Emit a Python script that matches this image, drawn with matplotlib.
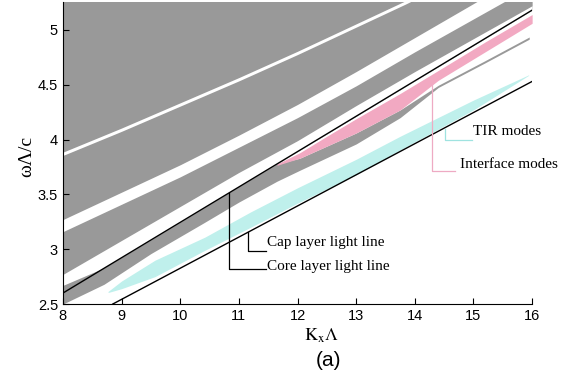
import numpy as np
import matplotlib.pyplot as plt

plt.rcParams['mathtext.fontset'] = 'stix'

# light lines (k, omega)
core_k = [8.0, 16.0]
core_w = [2.60, 5.18]
cap_k = [8.85, 16.0]
cap_w = [2.50, 4.53]

# white gaps cut into the grey continuum above the core light line
gapA_k = [8.0, 9.0, 10.0, 11.0, 12.0, 13.0, 13.84, 14.2]
gapA_lo = [3.855, 4.075, 4.305, 4.535, 4.775, 5.025, 5.235, 5.33]
gapA_hi = [3.885, 4.105, 4.335, 4.565, 4.805, 5.055, 5.265, 5.36]

gapB_k = [8.0, 9.0, 10.0, 11.0, 12.0, 13.0, 14.0, 15.0, 16.0]
gapB_lo = [3.16, 3.41, 3.66, 3.93, 4.20, 4.49, 4.80, 5.10, 5.40]
gapB_hi = [3.27, 3.52, 3.77, 4.04, 4.32, 4.62, 4.93, 5.24, 5.55]

gapC_k = [8.0, 9.0, 10.0, 11.0, 12.0, 13.0, 14.0, 15.0, 16.0]
gapC_lo = [2.60, 2.92, 3.245, 3.57, 3.89, 4.215, 4.535, 4.86, 5.18]
gapC_hi = [2.77, 3.08, 3.39, 3.70, 3.99, 4.31, 4.62, 4.92, 5.22]

# grey band below the core light line
band_k = [8.0, 8.7, 9.5, 10.4, 11.0, 11.65, 12.04, 13.0, 13.75, 14.4, 15.2, 15.95]
band_hi = [2.67, 2.83, 3.085, 3.375, 3.57, 3.777, 3.83, 4.06, 4.27, 4.495, 4.72, 4.935]
band_lo = [2.50, 2.68, 2.96, 3.24, 3.43, 3.62, 3.72, 3.96, 4.20, 4.475, 4.70, 4.915]

# interface modes (pink)
pink_k = [11.65, 12.04, 12.5, 13.0, 13.75, 14.4, 15.2, 16.0]
pink_hi = [3.777, 3.88, 4.03, 4.19, 4.42, 4.63, 4.89, 5.14]
pink_lo = [3.765, 3.83, 3.94, 4.06, 4.27, 4.54, 4.80, 5.06]

# TIR modes (cyan)
tir_k = [8.77, 9.0, 9.57, 10.42, 11.2, 12.0, 13.0, 13.75, 15.0, 15.94]
tir_hi = [2.615, 2.71, 2.90, 3.11, 3.34, 3.56, 3.82, 4.03, 4.36, 4.59]
tir_lo = [2.605, 2.64, 2.75, 2.99, 3.20, 3.42, 3.68, 3.905, 4.27, 4.585]

grey = '#999999'
pink = '#f2a9c2'
cyan = '#bff0ec'

fig = plt.figure(figsize=(5.88, 3.81), dpi=100)
ax = fig.add_axes([0.107, 0.202, 0.798, 0.793])

kk = np.linspace(8, 16, 200)
ck = np.interp(kk, core_k, core_w)
ax.fill_between(kk, ck, 5.4, color=grey, lw=0)
ax.fill_between(gapA_k, gapA_lo, gapA_hi, color='white', lw=0)
ax.fill_between(gapB_k, gapB_lo, gapB_hi, color='white', lw=0)
ax.fill_between(gapC_k, gapC_lo, gapC_hi, color='white', lw=0)
ax.fill_between(band_k, band_lo, band_hi, color=grey, lw=0)
ax.fill_between(pink_k, pink_lo, pink_hi, color=pink, lw=0)
ax.fill_between(tir_k, tir_lo, tir_hi, color=cyan, lw=0)

ax.plot(core_k, core_w, color='black', lw=1.0)
ax.plot(cap_k, cap_w, color='black', lw=1.0)

serif = ['Liberation Serif', 'DejaVu Serif']
# pointers and labels
ax.plot([11.16, 11.16, 11.46], [3.16, 2.98, 2.98], color='black', lw=0.9)
ax.text(11.48, 3.06, 'Cap layer light line', family=serif, fontsize=11, va='center')
ax.plot([10.83, 10.83, 11.46], [3.51, 2.82, 2.82], color='black', lw=0.9)
ax.text(11.48, 2.84, 'Core layer light line', family=serif, fontsize=11, va='center')
ax.plot([14.52, 14.52, 14.97], [4.10, 4.00, 4.00], color='#9fe3e0', lw=0.9)
ax.text(15.0, 4.07, 'TIR modes', family=serif, fontsize=11, va='center', clip_on=False)
ax.plot([14.30, 14.30, 14.69], [4.50, 3.71, 3.71], color='#eeaac3', lw=0.9)
ax.text(14.77, 3.77, 'Interface modes', family=serif, fontsize=11, va='center', clip_on=False)

ax.set_xlim(8, 16)
ax.set_ylim(2.5, 5.255)
ax.set_xticks(range(8, 17))
ax.set_yticks([2.5, 3, 3.5, 4, 4.5, 5])
ax.set_yticklabels(['2.5', '3', '3.5', '4', '4.5', '5'])
ax.tick_params(direction='in', length=4, labelsize=10.5, width=0.8)
for lab in ax.get_xticklabels() + ax.get_yticklabels():
    lab.set_family(['Liberation Sans', 'DejaVu Sans'])
ax.spines['top'].set_visible(False)
ax.spines['right'].set_visible(False)
ax.set_xlabel(r'$\mathrm{K_x\Lambda}$', fontsize=13, labelpad=0)
ax.xaxis.set_label_coords(0.55, -0.075)
ax.text(-0.078, 0.49, 'ωΛ/c', transform=ax.transAxes, rotation=90,
        va='center', ha='center', family=serif, fontsize=14)
fig.text(0.558, 0.055, '(a)', fontsize=15, ha='center', va='center',
         family=['Liberation Sans', 'DejaVu Sans'])

fig.savefig('out.png', dpi=100)
